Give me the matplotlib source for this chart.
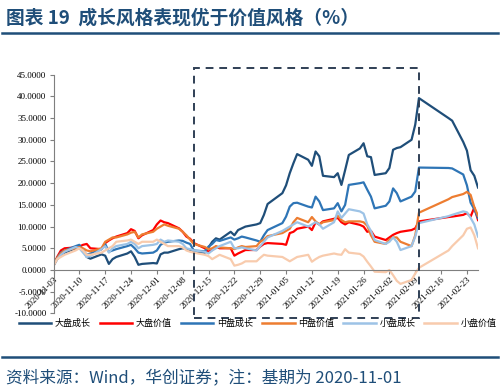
import pandas as pd
import matplotlib
matplotlib.use("Agg")
import matplotlib.pyplot as plt
import matplotlib.dates as mdates
from matplotlib.patches import Rectangle
from matplotlib.lines import Line2D
from matplotlib.ticker import MultipleLocator, FormatStrFormatter

plt.rcParams['font.family'] = ['Liberation Serif', 'Noto Sans CJK SC', 'DejaVu Sans']

# trading days, 2020-11-03 .. 2021-02-26 (CNY and New Year closed)
holidays = ["2021-01-01", "2021-02-11", "2021-02-12", "2021-02-15",
            "2021-02-16", "2021-02-17"]
dates = pd.bdate_range("2020-11-03", "2021-02-26")
dates = dates[~dates.isin(pd.to_datetime(holidays))]

large_growth = [1.0, 2.5, 3.5, 4.0,
                5.0, 5.5, 4.5, 3.0, 2.6,
                3.6, 3.3, 1.4, 2.5, 3.0,
                3.8, 4.3, 3.0, 1.2, 1.4,
                1.6, 1.5, 3.6, 4.0, 4.0,
                4.8, 5.0, 4.8, 4.5, 4.3,
                4.0, 5.2, 6.5, 7.3, 7.0,
                8.8, 8.0, 9.2, 9.6, 10.0,
                10.5, 10.8, 12.7, 15.2,
                17.7, 19.5, 22.3, 24.6, 26.7,
                25.4, 24.0, 27.3, 26.2, 21.7,
                21.4, 22.3, 19.6, 23.0, 26.5,
                28.0, 29.2, 26.2, 26.0, 21.9,
                22.3, 23.5, 27.7, 28.1, 28.3,
                30.0, 33.5, 39.6,
                35.0, 34.4,
                29.5, 27.5, 23.0, 21.7, 19.0]
large_value = [1.0, 3.0, 4.5, 5.0,
               5.2, 5.4, 5.8, 6.0, 5.0,
               4.8, 6.2, 6.8, 7.3, 7.7,
               8.5, 9.4, 9.0, 7.3, 8.0,
               9.2, 10.5, 11.4, 11.0, 10.8,
               9.6, 8.8, 7.7, 7.2, 6.2,
               5.0, 4.2, 4.6, 5.4, 5.0,
               5.0, 3.3, 3.8, 4.2, 4.6,
               4.6, 5.4, 6.0, 6.2,
               6.0, 5.8, 8.5, 8.8, 9.5,
               10.0, 9.2, 11.0, 10.5, 11.2,
               11.8, 12.0, 11.0, 10.5, 11.0,
               10.4, 10.0, 8.8, 9.0, 7.7,
               6.9, 7.5, 8.1, 8.5, 8.8,
               9.2, 9.6, 11.2,
               12.2, 12.3,
               12.7, 13.1, 12.3, 14.4, 11.5]
mid_growth = [1.0, 2.8, 4.0, 4.5,
              5.5, 5.8, 4.5, 3.5, 3.8,
              4.8, 6.0, 4.2, 4.5, 4.8,
              5.5, 5.8, 5.0, 4.0, 3.8,
              4.0, 4.5, 5.8, 6.3, 6.5,
              6.8, 6.7, 6.3, 6.0, 4.5,
              4.3, 5.4, 6.0, 6.9, 6.7,
              7.5, 7.0, 7.3, 7.7, 7.5,
              6.8, 6.5, 8.0, 9.2,
              10.8, 12.3, 14.6, 15.4, 15.5,
              14.6, 14.4, 16.9, 15.8, 13.8,
              14.2, 15.4, 13.5, 15.0, 19.6,
              20.0, 20.2, 18.5, 16.9, 14.2,
              14.8, 15.8, 18.8, 17.7, 15.8,
              16.9, 18.1, 23.6,
              23.5, 23.4,
              22.0, 19.5, 15.5, 14.0, 12.0]
mid_value = [1.0, 2.8, 3.8, 4.5,
             5.0, 5.3, 5.0, 4.5, 4.3,
             5.0, 6.5, 7.0, 7.5, 7.5,
             8.2, 8.6, 8.8, 7.5, 8.2,
             8.8, 9.5, 10.0, 10.5, 10.2,
             9.5, 8.8, 8.0, 7.0, 6.0,
             5.3, 4.8, 5.0, 5.5, 5.2,
             5.0, 4.8, 5.2, 5.5, 5.3,
             5.5, 6.5, 7.0, 7.8,
             8.5, 9.0, 9.5, 11.0, 12.0,
             11.0, 12.2, 11.2, 10.5, 11.0,
             11.5, 12.5, 11.5, 11.0, 11.2,
             11.2, 11.0, 10.2, 8.0, 6.5,
             6.0, 7.0, 7.5, 7.5, 6.5,
             5.5, 8.0, 13.2,
             16.3, 16.8,
             17.5, 18.0, 17.3, 14.5, 12.5]
small_growth = [1.0, 2.5, 3.5, 4.2,
                5.3, 5.0, 4.0, 3.0, 3.2,
                4.8, 5.5, 4.0, 5.0, 5.5,
                6.0, 6.5, 6.0, 5.0, 5.5,
                5.8, 6.0, 7.0, 6.5, 6.8,
                6.5, 6.0, 5.0, 4.8, 4.5,
                4.2, 3.8, 4.5, 5.0, 5.5,
                6.5, 5.0, 5.0, 5.2, 5.0,
                4.5, 5.5, 6.5, 7.5,
                9.0, 9.5, 10.0, 10.5, 11.0,
                10.0, 10.5, 11.0, 10.5, 9.5,
                11.0, 13.5, 12.0, 13.0, 14.0,
                13.5, 13.0, 10.5, 9.0, 6.9,
                6.0, 6.5, 7.5, 6.5, 4.6,
                5.5, 7.7, 10.8,
                12.4, 12.7,
                13.5, 13.3, 12.0, 10.5, 7.7]
small_value = [1.0, 2.5, 3.0, 3.5,
               4.5, 5.0, 4.5, 3.5, 3.5,
               4.0, 4.5, 5.0, 5.5, 6.5,
               6.8, 7.0, 6.5, 6.0, 6.5,
               6.5, 7.0, 6.5, 6.0, 5.5,
               5.5, 5.2, 4.5, 4.2, 4.0,
               3.5, 3.2, 2.5, 3.0, 3.5,
               2.5, 1.0, 1.2, 1.5, 2.0,
               2.0, 2.8, 3.5, 3.3,
               3.0, 2.5, 2.0, 2.5, 3.0,
               3.5, 1.9, 2.5, 3.0, 3.3,
               3.8, 3.6, 3.5, 4.8, 4.0,
               3.7, 3.1, 1.9, 0.8, -0.4,
               -0.5, 0.0, -1.2, -2.5, -3.2,
               -2.3, -0.8, 0.5,
               4.5, 5.5,
               8.0, 9.5, 9.8, 8.0, 5.0]

series = [("大盘成长", large_growth, "#1f4e79"),
          ("大盘价值", large_value, "#ff0000"),
          ("中盘成长", mid_growth, "#2e75b6"),
          ("中盘价值", mid_value, "#ed7d31"),
          ("小盘成长", small_growth, "#9dc3e6"),
          ("小盘价值", small_value, "#f8cbad")]

fig = plt.figure(figsize=(5, 3.91), dpi=100)
ax = fig.add_axes([0.107, 0.1985, 0.849, 0.6105])

for name, vals, color in series:
    ax.plot(dates, vals, color=color, lw=1.6, label=name, solid_joinstyle="round")

ax.set_ylim(-10, 45)
ax.set_xlim(pd.Timestamp("2020-11-03"), pd.Timestamp("2021-02-26"))
ax.yaxis.set_major_locator(MultipleLocator(5))
ax.yaxis.set_major_formatter(FormatStrFormatter("%.4f"))
ax.set_xticks(pd.date_range("2020-11-03", "2021-02-26", freq="7D"))
ax.xaxis.set_major_formatter(mdates.DateFormatter("%Y-%m-%d"))

for s in ["top", "right"]:
    ax.spines[s].set_visible(False)
ax.spines["bottom"].set_position(("data", 0))
ax.spines["left"].set_color("#7f7f7f")
ax.spines["bottom"].set_color("#7f7f7f")
ax.tick_params(axis="y", labelsize=6.5, length=3, color="#7f7f7f", pad=2)
ax.tick_params(axis="x", labelsize=6.5, length=3, color="#7f7f7f", pad=1)
for lab in ax.get_xticklabels():
    lab.set_rotation(45)
    lab.set_ha("right")
    lab.set_rotation_mode("anchor")

# dashed highlight box
x0 = mdates.date2num(pd.Timestamp("2020-12-11"))
x1 = mdates.date2num(pd.Timestamp("2021-02-10"))
box = Rectangle((x0, -11.1), x1 - x0, 57.6, fill=False, ls=(0, (4, 3)), lw=1.4,
                ec="#2f3f55", clip_on=False, zorder=5)
ax.add_patch(box)

handles = [Line2D([], [], color=c, lw=1.8) for _, _, c in series]
fig.legend(handles, [n for n, _, _ in series], loc="center", bbox_to_anchor=(0.515, 0.172),
           ncol=6, frameon=False, handlelength=3.6, columnspacing=1.0, handletextpad=0.4,
           prop={"family": ["Noto Sans CJK SC"], "size": 6.5})

navy = "#1f4e79"
fig.text(0.012, 0.953, "图表 19  成长风格表现优于价值风格（%）", color=navy, fontsize=13.5,
         fontweight="bold", family=["Noto Sans CJK SC"], va="center")
fig.add_artist(Line2D([0.004, 0.996], [0.915, 0.915], color=navy, lw=1.8))
fig.add_artist(Line2D([0.004, 0.996], [0.087, 0.087], color=navy, lw=1.8))
fig.text(0.012, 0.033, "资料来源：Wind，华创证券；注：基期为 2020-11-01", color=navy, fontsize=12,
         family=["Noto Sans CJK SC"], va="center")

fig.savefig("out.png", dpi=100)
